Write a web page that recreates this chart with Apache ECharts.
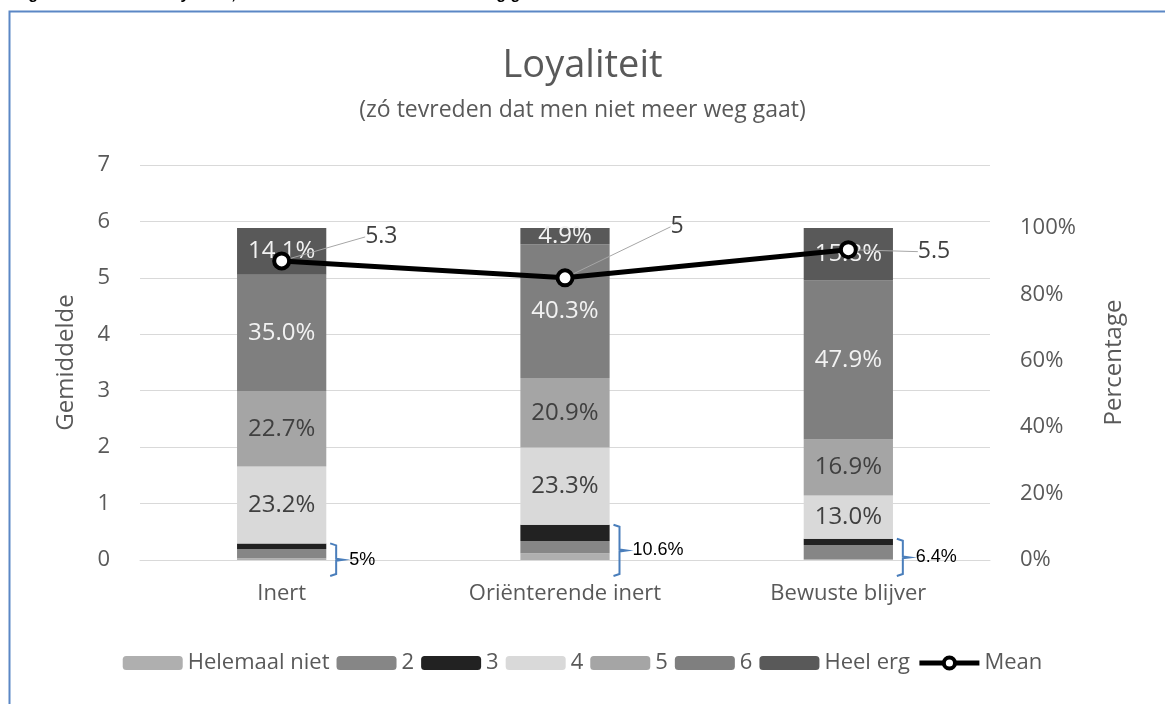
<!DOCTYPE html>
<html>
<head>
<meta charset="UTF-8">
<title>Loyaliteit</title>
<style>
  html, body { margin: 0; padding: 0; background: #fff; }
  #main { width: 1165px; height: 704px; }
</style>
</head>
<body>
<div id="main"></div>
<script src="https://cdn.jsdelivr.net/npm/echarts@6/dist/echarts.min.js"></script>
<script>
// categorieen en antwoordniveaus
var categories = ['Inert', 'Oriënterende inert', 'Bewuste blijver'];
var levels = ['Helemaal niet', '2', '3', '4', '5', '6', 'Heel erg'];

// aandelen per antwoord (fractie van 1)
var helemaalNiet = [0.005, 0.020, 0.002];
var score2 = [0.028, 0.037, 0.043];
var score3 = [0.017, 0.049, 0.019];
var score4 = [0.232, 0.233, 0.130];
var score5 = [0.227, 0.209, 0.169];
var score6 = [0.350, 0.403, 0.479];
var heelErg = [0.141, 0.049, 0.158];

// gemiddelde score
var meanValues = [5.3, 5.0, 5.5];

// som van de laagste drie antwoorden (accolade)
var lowShareLabels = ['5%', '10.6%', '6.4%'];

var levelData = [helemaalNiet, score2, score3, score4, score5, score6, heelErg];
var levelColors = ['#afafaf', '#868686', '#222222', '#d9d9d9', '#a5a5a5', '#7f7f7f', '#595959'];
var labelColors = [null, null, null, '#404040', '#404040', '#f2f2f2', '#f2f2f2'];
var meanLabelShift = [[68, -24], [90, -51], [54, 2]];

var font = 'Open Sans';
var myChart = echarts.init(document.getElementById('main'));

var series = [];
for (var i = 0; i < levels.length; i++) {
  series.push({
    name: levels[i],
    type: 'bar',
    stack: 'pct',
    yAxisIndex: 1,
    barWidth: '31.5%',
    itemStyle: { color: levelColors[i] },
    label: {
      show: labelColors[i] != null,
      position: 'inside',
      fontFamily: font,
      fontSize: 24,
      color: labelColors[i] || '#404040',
      formatter: function (p) { return (p.value * 100).toFixed(1) + '%'; }
    },
    data: levelData[i]
  });
}
series.push({
  name: 'Mean',
  type: 'line',
  yAxisIndex: 0,
  z: 10,
  data: meanValues,
  symbol: 'circle',
  symbolSize: 15,
  lineStyle: { color: '#000', width: 5 },
  itemStyle: { color: '#fff', borderColor: '#000', borderWidth: 4 },
  label: {
    show: true,
    position: 'right',
    distance: 6,
    fontFamily: font,
    fontSize: 23,
    color: '#404040'
  },
  labelLine: { show: true, lineStyle: { color: '#a6a6a6', width: 1 } },
  labelLayout: function (p) {
    return { dx: meanLabelShift[p.dataIndex][0], dy: meanLabelShift[p.dataIndex][1] };
  }
});

var legendData = levels.slice();
legendData.push({
  name: 'Mean',
  lineStyle: { color: '#000', width: 5 },
  itemStyle: { color: '#fff', borderColor: '#000', borderWidth: 4 }
});

var option = {
  animation: false,
  textStyle: { fontFamily: font },
  title: [{
    text: 'Loyaliteit',
    left: 'center',
    top: 42,
    textStyle: { fontFamily: font, fontSize: 38, fontWeight: 'normal', color: '#595959' }
  }, {
    text: '(zó tevreden dat men niet meer weg gaat)',
    left: 'center',
    top: 94,
    textStyle: { fontFamily: font, fontSize: 23, fontWeight: 'normal', color: '#595959' }
  }],
  grid: { left: 140, right: 175, top: 165, bottom: 144 },
  legend: {
    top: 647,
    left: 'center',
    itemWidth: 60,
    itemHeight: 14,
    itemGap: 7,
    textStyle: { fontFamily: font, fontSize: 22, color: '#595959' },
    data: legendData
  },
  xAxis: {
    type: 'category',
    data: categories,
    axisLine: { lineStyle: { color: '#d9d9d9' } },
    axisTick: { show: false },
    axisLabel: { fontFamily: font, fontSize: 22, color: '#595959', margin: 23 }
  },
  yAxis: [{
    type: 'value',
    min: 0,
    max: 7,
    interval: 1,
    name: 'Gemiddelde',
    nameLocation: 'middle',
    nameGap: 62,
    nameTextStyle: { fontFamily: font, fontSize: 24, color: '#595959' },
    axisLabel: { fontFamily: font, fontSize: 22, color: '#595959', margin: 30 },
    splitLine: { lineStyle: { color: '#d9d9d9' } }
  }, {
    type: 'value',
    min: 0,
    max: 1.19,
    interval: 0.2,
    name: 'Percentage',
    nameLocation: 'middle',
    nameGap: 112,
    nameTextStyle: { fontFamily: font, fontSize: 24, color: '#595959' },
    axisLabel: {
      fontFamily: font, fontSize: 22, color: '#595959', margin: 30,
      formatter: function (v) { return v > 1.001 ? '' : Math.round(v * 100) + '%'; }
    },
    splitLine: { show: false }
  }],
  series: series
};
myChart.setOption(option);

// accolades voor de laagste drie antwoorden + kader
function drawBrackets() {
  var els = [{
    type: 'rect', left: 7, top: 9, z: -10, silent: true,
    shape: { width: 1300, height: 900 },
    style: { fill: null, stroke: '#5b87c5', lineWidth: 2 }
  }, {
    type: 'text', left: 14, top: -13,
    style: { text: 'Figuur 9', font: 'bold 16px "Liberation Sans"', fill: '#000' }
  }, {
    type: 'text', left: 161, top: -13,
    style: { text: 'Loyaliteit, zó tevreden dat men niet meer weg gaat', font: 'bold 16px "Liberation Sans"', fill: '#000' }
  }];
  var bw = 89;
  for (var i = 0; i < categories.length; i++) {
    var low = helemaalNiet[i] + score2[i] + score3[i];
    var top = myChart.convertToPixel({ xAxisIndex: 0, yAxisIndex: 1 }, [i, low]);
    var base = myChart.convertToPixel({ xAxisIndex: 0, yAxisIndex: 1 }, [i, 0]);
    var x = top[0] + bw / 2 + 10;
    var y1 = top[1];
    var y2 = base[1] + 16;
    var ym = (y1 + y2) / 2;
    els.push({
      type: 'polyline', silent: true, z: 20,
      shape: { points: [[x - 6, y1], [x, y1 + 2], [x, ym - 1], [x + 7, ym], [x, ym + 1], [x, y2 - 2], [x - 6, y2]] },
      style: { stroke: '#4a7ebb', lineWidth: 2, fill: null }
    });
    els.push({
      type: 'text', z: 20, x: x + 13, y: ym,
      style: { text: lowShareLabels[i], font: '18px "Liberation Sans"', fill: '#000', textVerticalAlign: 'middle' }
    });
  }
  myChart.setOption({ graphic: els });
}
drawBrackets();
</script>
</body>
</html>
